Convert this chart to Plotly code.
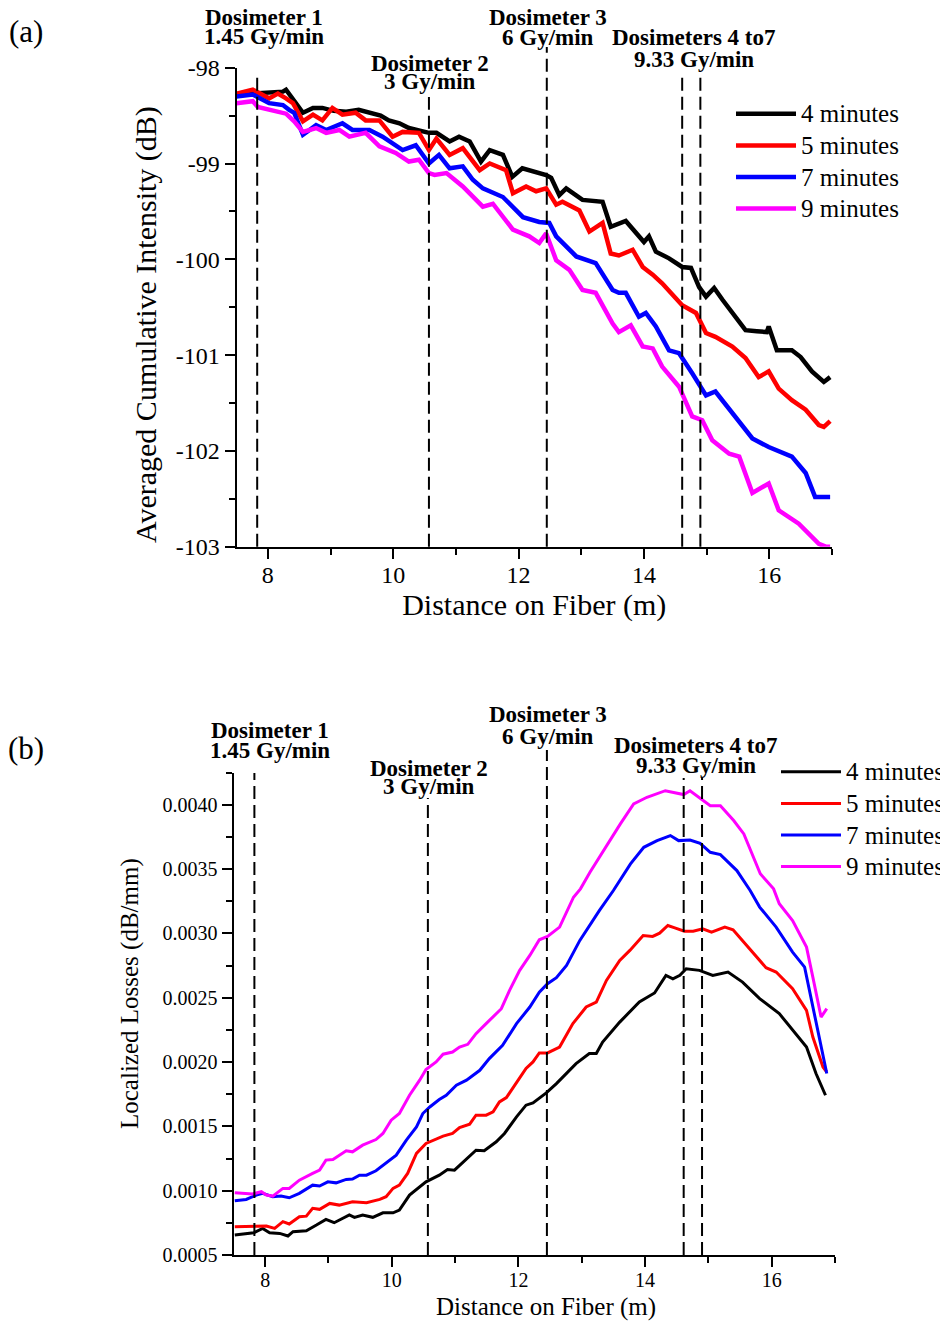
import plotly.graph_objects as go

FONT = "Liberation Serif"
W, H = 948, 1323
OFF = 8  # page body margin in the browser

# ---------------- data ----------------
series_names = ["4 minutes", "5 minutes", "7 minutes", "9 minutes"]
series_colors = ["#000000", "#ff0000", "#0000ff", "#ff00ff"]

# (a) Averaged cumulative intensity (dB)
a_x_4 = [7.50, 7.83, 8.10, 8.24, 8.29, 8.45, 8.56, 8.72, 8.87, 9.05, 9.25, 9.45, 9.61, 9.80, 9.93, 10.10, 10.25,
         10.45, 10.57, 10.69, 10.90, 11.05, 11.22, 11.40, 11.54, 11.75, 11.90, 12.06, 12.25, 12.44, 12.52, 12.65,
         12.76, 12.90, 13.02, 13.34, 13.47, 13.71, 14.00, 14.08, 14.19, 14.40, 14.61, 14.75, 14.88, 14.99, 15.12,
         15.25, 15.41, 15.62, 15.80, 15.96, 15.99, 16.12, 16.36, 16.50, 16.68, 16.87, 16.97]
a_y_4 = [-98.28, -98.27, -98.26, -98.25, -98.23, -98.37, -98.47, -98.42, -98.42, -98.45, -98.46, -98.44, -98.47,
         -98.50, -98.55, -98.58, -98.63, -98.66, -98.68, -98.68, -98.77, -98.72, -98.77, -98.98, -98.86, -98.91,
         -99.14, -99.05, -99.09, -99.12, -99.15, -99.33, -99.26, -99.33, -99.38, -99.40, -99.66, -99.60, -99.82,
         -99.76, -99.92, -99.99, -100.08, -100.09, -100.29, -100.39, -100.30, -100.42, -100.56, -100.74, -100.75,
         -100.76, -100.70, -100.95, -100.95, -101.02, -101.17, -101.28, -101.23]

a_x_5 = [7.50, 7.76, 8.02, 8.16, 8.29, 8.40, 8.56, 8.72, 8.87, 9.03, 9.19, 9.40, 9.56, 9.78, 9.99, 10.15, 10.41,
         10.57, 10.69, 10.90, 11.11, 11.38, 11.54, 11.80, 11.91, 12.12, 12.28, 12.44, 12.60, 12.70, 12.97, 13.13,
         13.34, 13.47, 13.60, 13.82, 13.98, 14.14, 14.29, 14.45, 14.61, 14.83, 14.99, 15.14, 15.41, 15.62, 15.83,
         15.99, 16.15, 16.36, 16.58, 16.79, 16.87, 16.97]
a_y_5 = [-98.27, -98.23, -98.32, -98.27, -98.32, -98.37, -98.56, -98.49, -98.55, -98.42, -98.49, -98.47, -98.55,
         -98.55, -98.72, -98.67, -98.68, -98.86, -98.74, -98.91, -98.84, -99.07, -99.00, -99.07, -99.31, -99.24,
         -99.29, -99.26, -99.43, -99.40, -99.49, -99.71, -99.62, -99.94, -99.96, -99.90, -100.08, -100.16, -100.25,
         -100.36, -100.48, -100.56, -100.77, -100.81, -100.91, -101.03, -101.23, -101.17, -101.35, -101.47, -101.57,
         -101.73, -101.75, -101.69]

a_x_7 = [7.50, 7.76, 8.02, 8.24, 8.34, 8.42, 8.56, 8.77, 8.93, 9.19, 9.35, 9.62, 9.83, 10.15, 10.36, 10.57, 10.73,
         10.90, 11.11, 11.27, 11.43, 11.75, 12.07, 12.33, 12.49, 12.60, 12.92, 13.23, 13.50, 13.60, 13.71, 13.92,
         14.03, 14.19, 14.40, 14.56, 14.77, 14.99, 15.14, 15.41, 15.73, 15.99, 16.36, 16.58, 16.73, 16.97]
a_y_7 = [-98.30, -98.28, -98.37, -98.39, -98.44, -98.47, -98.70, -98.60, -98.65, -98.58, -98.65, -98.65, -98.72,
         -98.86, -98.81, -99.00, -98.91, -99.05, -99.03, -99.17, -99.26, -99.35, -99.56, -99.61, -99.62, -99.76,
         -99.97, -100.04, -100.32, -100.35, -100.35, -100.60, -100.56, -100.70, -100.95, -100.98, -101.19,
         -101.42, -101.38, -101.61, -101.87, -101.96, -102.06, -102.23, -102.48, -102.48]

a_x_9 = [7.50, 7.76, 7.84, 8.02, 8.29, 8.42, 8.56, 8.77, 8.93, 9.14, 9.30, 9.56, 9.78, 10.04, 10.25, 10.41, 10.57,
         10.66, 10.85, 11.11, 11.27, 11.43, 11.59, 11.91, 12.17, 12.33, 12.44, 12.60, 12.81, 13.02, 13.23, 13.50,
         13.60, 13.79, 13.98, 14.14, 14.29, 14.56, 14.77, 14.93, 15.09, 15.36, 15.52, 15.73, 15.99, 16.15, 16.47,
         16.79, 16.90, 16.97]
a_y_9 = [-98.37, -98.35, -98.41, -98.44, -98.48, -98.56, -98.67, -98.63, -98.68, -98.65, -98.72, -98.68, -98.82,
         -98.89, -98.98, -98.96, -99.10, -99.12, -99.10, -99.24, -99.35, -99.45, -99.42, -99.69, -99.76, -99.83,
         -99.73, -100.01, -100.11, -100.32, -100.35, -100.67, -100.76, -100.69, -100.91, -100.93, -101.12,
         -101.33, -101.64, -101.68, -101.89, -102.03, -102.06, -102.44, -102.34, -102.62, -102.76, -102.97,
         -103.00, -103.00]

# (b) Localized losses (dB/mm)
b_x_4 = [7.52, 7.70, 7.82, 7.96, 8.07, 8.23, 8.36, 8.44, 8.65, 8.81, 8.96, 9.09, 9.33, 9.41, 9.54, 9.70, 9.86,
         10.02, 10.12, 10.28, 10.54, 10.75, 10.88, 10.99, 11.18, 11.33, 11.46, 11.65, 11.78, 11.97, 12.12, 12.23,
         12.44, 12.60, 12.91, 13.12, 13.23, 13.33, 13.60, 13.91, 14.15, 14.33, 14.44, 14.55, 14.65, 14.86, 15.07,
         15.31, 15.54, 15.81, 16.12, 16.33, 16.55, 16.70, 16.85]
b_y_4 = [0.000655, 0.000663, 0.000673, 0.000707, 0.000673, 0.000668, 0.000648, 0.000681, 0.000689, 0.000733,
         0.000777, 0.000751, 0.000811, 0.000793, 0.000811, 0.000793, 0.000828, 0.000828, 0.000849, 0.000966,
         0.001069, 0.001121, 0.001165, 0.001160, 0.001251, 0.001315, 0.001310, 0.001380, 0.001445, 0.001574,
         0.001665, 0.001683, 0.001760, 0.001833, 0.001988, 0.002066, 0.002066, 0.002156, 0.002311, 0.002467,
         0.002537, 0.002674, 0.002648, 0.002674, 0.002726, 0.002713, 0.002674, 0.002700, 0.002622, 0.002493,
         0.002377, 0.002247, 0.002117, 0.001911, 0.001742]

b_x_5 = [7.52, 7.80, 8.02, 8.15, 8.28, 8.38, 8.54, 8.65, 8.75, 8.86, 9.02, 9.17, 9.38, 9.60, 9.81, 9.91, 10.02,
         10.12, 10.25, 10.39, 10.54, 10.81, 10.96, 11.07, 11.23, 11.33, 11.49, 11.60, 11.70, 11.81, 11.97, 12.12,
         12.23, 12.33, 12.46, 12.65, 12.86, 13.07, 13.23, 13.39, 13.60, 13.76, 13.97, 14.12, 14.23, 14.36, 14.47,
         14.62, 14.76, 14.91, 15.05, 15.26, 15.39, 15.65, 15.91, 16.07, 16.33, 16.55, 16.65, 16.81, 16.87]
b_y_5 = [0.000720, 0.000720, 0.000725, 0.000707, 0.000759, 0.000741, 0.000797, 0.000802, 0.000863, 0.000855,
         0.000901, 0.000888, 0.000914, 0.000906, 0.000932, 0.000953, 0.001018, 0.001043, 0.001134, 0.001290,
         0.001367, 0.001424, 0.001445, 0.001491, 0.001517, 0.001587, 0.001587, 0.001613, 0.001690, 0.001724,
         0.001838, 0.001950, 0.002001, 0.002071, 0.002071, 0.002117, 0.002299, 0.002428, 0.002467, 0.002635,
         0.002790, 0.002868, 0.002984, 0.002977, 0.003002, 0.003062, 0.003044, 0.003018, 0.003018, 0.003036,
         0.003010, 0.003049, 0.003029, 0.002881, 0.002734, 0.002700, 0.002571, 0.002402, 0.002195, 0.001962,
         0.001923]

b_x_7 = [7.52, 7.70, 7.86, 7.96, 8.12, 8.25, 8.38, 8.54, 8.75, 8.86, 8.99, 9.12, 9.28, 9.38, 9.49, 9.60, 9.75,
         9.91, 10.07, 10.23, 10.39, 10.49, 10.60, 10.75, 10.86, 11.02, 11.18, 11.39, 11.54, 11.75, 11.97, 12.18,
         12.33, 12.46, 12.60, 12.76, 12.97, 13.28, 13.50, 13.77, 13.98, 14.19, 14.40, 14.53, 14.71, 14.87, 15.03,
         15.19, 15.45, 15.66, 15.81, 16.07, 16.33, 16.52, 16.65, 16.78, 16.87]
b_y_7 = [0.000922, 0.000932, 0.000966, 0.000979, 0.000953, 0.000958, 0.000945, 0.000979, 0.001043, 0.001036,
         0.001069, 0.001061, 0.001088, 0.001090, 0.001121, 0.001121, 0.001155, 0.001212, 0.001276, 0.001393,
         0.001496, 0.001600, 0.001651, 0.001709, 0.001742, 0.001820, 0.001859, 0.001936, 0.002027, 0.002130,
         0.002299, 0.002428, 0.002544, 0.002609, 0.002656, 0.002752, 0.002946, 0.003179, 0.003334, 0.003541,
         0.003670, 0.003722, 0.003761, 0.003722, 0.003727, 0.003701, 0.003631, 0.003613, 0.003489, 0.003334,
         0.003205, 0.003049, 0.002855, 0.002738, 0.002428, 0.002117, 0.001911]

b_x_9 = [7.52, 7.67, 7.80, 7.94, 8.02, 8.12, 8.28, 8.38, 8.54, 8.75, 8.86, 8.96, 9.07, 9.28, 9.38, 9.54, 9.75,
         9.86, 9.99, 10.12, 10.28, 10.44, 10.54, 10.70, 10.81, 10.96, 11.07, 11.20, 11.33, 11.49, 11.60, 11.73,
         11.86, 12.02, 12.18, 12.33, 12.46, 12.65, 12.87, 12.98, 13.13, 13.34, 13.61, 13.82, 14.03, 14.32, 14.50,
         14.61, 14.71, 14.92, 15.03, 15.19, 15.40, 15.56, 15.82, 16.03, 16.12, 16.33, 16.55, 16.65, 16.78, 16.87]
b_y_9 = [0.000984, 0.000979, 0.000974, 0.000992, 0.000966, 0.000958, 0.001018, 0.001018, 0.001082, 0.001134,
         0.001160, 0.001238, 0.001243, 0.001310, 0.001302, 0.001354, 0.001398, 0.001445, 0.001548, 0.001600,
         0.001742, 0.001859, 0.001942, 0.002001, 0.002061, 0.002078, 0.002117, 0.002138, 0.002221, 0.002299,
         0.002350, 0.002415, 0.002557, 0.002713, 0.002829, 0.002951, 0.002977, 0.003049, 0.003282, 0.003347,
         0.003476, 0.003645, 0.003852, 0.004007, 0.004059, 0.004110, 0.004090, 0.004080, 0.004110, 0.004032,
         0.003994, 0.003994, 0.003878, 0.003774, 0.003464, 0.003347, 0.003231, 0.003101, 0.002894, 0.002661,
         0.002350, 0.002415]

# dosimeter positions (m) and labels
dosimeter_x = [7.83, 10.57, 12.45, 14.61, 14.90]
dosimeter_labels = [("Dosimeter 1", "1.45 Gy/min"), ("Dosimeter 2", "3 Gy/min"),
                    ("Dosimeter 3", "6 Gy/min"), ("Dosimeters 4 to7", "9.33 Gy/min")]

a_ytick_vals = [-103, -102, -101, -100, -99, -98]
a_ytick_text = ["-103", "-102", "-101", "-100", "-99", "-98"]

# ---------------- helpers (screen pixel -> paper) ----------------
def px(x):
    return (x - OFF) / W

def py(y):
    return 1 - (y - OFF) / H

fig = go.Figure()

a_series = [(a_x_4, a_y_4), (a_x_5, a_y_5), (a_x_7, a_y_7), (a_x_9, a_y_9)]
b_series = [(b_x_4, b_y_4), (b_x_5, b_y_5), (b_x_7, b_y_7), (b_x_9, b_y_9)]

def legend_name(n):
    return '<span style="font-size:25px">' + n + '</span>'

for (xs, ys), name, col in zip(a_series, series_names, series_colors):
    fig.add_trace(go.Scatter(x=xs, y=ys, mode="lines", name=legend_name(name), line=dict(color=col, width=4.5),
                             xaxis="x", yaxis="y", legend="legend"))
for (xs, ys), name, col in zip(b_series, series_names, series_colors):
    fig.add_trace(go.Scatter(x=xs, y=ys, mode="lines", name=legend_name(name), line=dict(color=col, width=3),
                             xaxis="x2", yaxis="y2", legend="legend2"))

# plot-area edges in screen pixels
a_left, a_right, a_top, a_bot = 236.5, 832.0, 67.7, 546.7
b_left, b_right, b_top, b_bot = 233.5, 835.0, 772.7, 1255.0

axis_common = dict(showline=True, linecolor="black", linewidth=2, ticks="outside", ticklen=10, tickwidth=2,
                   tickcolor="black", showgrid=False, zeroline=False, mirror=False, automargin=False)

fig.update_layout(
    template="none",
    width=W, height=H, margin=dict(l=0, r=0, t=0, b=0, pad=0),
    paper_bgcolor="white", plot_bgcolor="white",
    font=dict(family=FONT, color="black"),
    xaxis=dict(domain=[px(a_left), px(a_right)], range=[7.5, 17], dtick=2, tick0=0, anchor="y",
               tickfont=dict(size=24, family=FONT), ticklabelstandoff=-5,
               title=dict(text="Distance on Fiber (m)", font=dict(size=30, family=FONT), standoff=2),
               minor=dict(dtick=1, ticks="outside", ticklen=6, tickwidth=2, tickcolor="black"),
               **axis_common),
    yaxis=dict(domain=[py(a_bot), py(a_top)], range=[-103, -98], tickvals=a_ytick_vals, ticktext=a_ytick_text,
               anchor="x", tickfont=dict(size=24, family=FONT),
               minor=dict(dtick=0.5, ticks="outside", ticklen=6, tickwidth=2, tickcolor="black"),
               **axis_common),
    xaxis2=dict(domain=[px(b_left), px(b_right)], range=[7.5, 17], dtick=2, tick0=0, anchor="y2",
                tickfont=dict(size=20, family=FONT), ticklabelstandoff=-4,
                minor=dict(dtick=1, ticks="outside", ticklen=6, tickwidth=2, tickcolor="black"),
                **axis_common),
    yaxis2=dict(domain=[py(b_bot), py(b_top)], range=[0.0005, 0.00425], dtick=0.0005, tick0=0.0005,
                tickformat=".4f", anchor="x2", tickfont=dict(size=20, family=FONT),
                minor=dict(dtick=0.00025, ticks="outside", ticklen=6, tickwidth=2, tickcolor="black"),
                **axis_common),
    legend=dict(x=px(731), y=py(93), xanchor="left", yanchor="top", bgcolor="rgba(0,0,0,0)",
                font=dict(size=22, family=FONT), itemwidth=60, tracegroupgap=0, borderwidth=0),
    legend2=dict(x=px(776), y=py(751), xanchor="left", yanchor="top", bgcolor="rgba(0,0,0,0)",
                 font=dict(size=22, family=FONT), itemwidth=60, tracegroupgap=0, borderwidth=0),
    showlegend=True,
)

# dashed dosimeter lines (extend above the plot top)
a_tops = [72, 97, 47, 74, 74]
b_tops = [773, 798, 750, 778, 778]
for xv, t in zip(dosimeter_x, a_tops):
    fig.add_shape(type="line", xref="x", yref="y domain", x0=xv, x1=xv, y0=0,
                  y1=(a_bot - t) / (a_bot - a_top), line=dict(color="black", width=2, dash="13px,6px"))
for xv, t in zip(dosimeter_x, b_tops):
    fig.add_shape(type="line", xref="x2", yref="y2 domain", x0=xv, x1=xv, y0=0,
                  y1=(b_bot - t) / (b_bot - b_top), line=dict(color="black", width=2, dash="13px,6px"))

def note(text, x, y, font, angle=0):
    fig.add_annotation(text=text, x=px(x), y=py(y), xref="paper", yref="paper", showarrow=False,
                       xanchor="center", yanchor="middle", textangle=angle, font=font)

# dosimeter labels
bold = dict(family=FONT, size=23, color="black", weight="bold")
a_label_pos = [(264, 18, 37), (430, 63, 81), (548, 17, 38), (694, 38, 59)]
b_label_pos = [(270, 730, 751), (429, 768, 786), (548, 714, 736), (696, 745, 765)]
for (l1, l2), (cx, y1, y2) in zip(dosimeter_labels, a_label_pos):
    note(l1, cx, y1, bold)
    note(l2, cx, y2, bold)
for (l1, l2), (cx, y1, y2) in zip(dosimeter_labels, b_label_pos):
    note(l1, cx, y1, bold)
    note(l2, cx, y2, bold)

# axis titles placed as annotations where the original is off-centre
note("Averaged Cumulative Intensity (dB)", 146, 325, dict(family=FONT, size=30), -90)
note("Distance on Fiber (m)", 546, 1307, dict(family=FONT, size=25))
note("Localized Losses (dB/mm)", 130, 994, dict(family=FONT, size=25), -90)

# panel labels
note("(a)", 26, 32, dict(family=FONT, size=31))
note("(b)", 26, 748, dict(family=FONT, size=31))

fig.write_html("out.html")
